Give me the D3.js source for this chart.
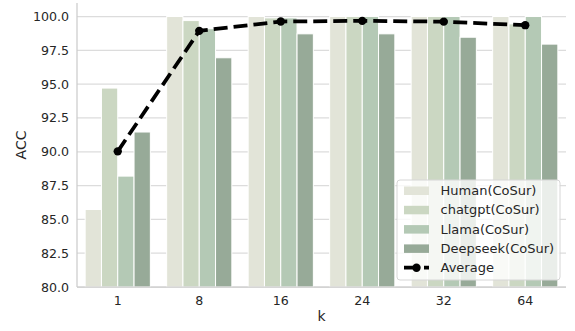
<!DOCTYPE html>
<html><head><meta charset="utf-8">
<script src="https://cdn.jsdelivr.net/npm/d3@7"></script>
<style>body{margin:0;background:#fff}svg{display:block}text{font-family:"DejaVu Sans",sans-serif;fill:#262626}</style>
</head><body>
<svg id="c" width="575" height="331"></svg>
<script>
const categories = ["1","8","16","24","32","64"];
const seriesNames = ["Human(CoSur)","chatgpt(CoSur)","Llama(CoSur)","Deepseek(CoSur)"];
const human    = [85.73, 100.0, 100.0, 100.0, 100.0, 100.0];
const chatgpt  = [94.71, 99.7, 99.9, 100.0, 100.0, 99.46];
const llama    = [88.2, 99.1, 99.9, 100.0, 100.0, 100.0];
const deepseek = [91.46, 96.95, 98.72, 98.72, 98.47, 97.96];
const average  = [90.03, 98.94, 99.63, 99.68, 99.62, 99.36];
const yTicks = [80, 82.5, 85, 87.5, 90, 92.5, 95, 97.5, 100];
const colors = ["#e2e4d8","#cbd7c2","#b4c9b5","#97aa98"];

const series = [human, chatgpt, llama, deepseek];
const svg = d3.select("#c");
const L = 77, R = 566, T = 3, B = 287;
const x = d3.scaleBand().domain(categories).range([L, R]).paddingInner(0).paddingOuter(0);
const y = d3.scaleLinear().domain([80, 101]).range([B, T]);
const groupW = x.bandwidth() * 0.8;
const xs = d3.scaleBand().domain(d3.range(4)).range([0, groupW]);

// grid
svg.append("g").selectAll("line").data(yTicks).join("line")
  .attr("x1", L).attr("x2", R).attr("y1", d => y(d)).attr("y2", d => y(d))
  .attr("stroke", "#dcdcdc").attr("stroke-width", 1.25);

// bars
series.forEach((vals, si) => {
  svg.append("g").selectAll("rect").data(vals).join("rect")
    .attr("x", (d, i) => x(categories[i]) + x.bandwidth() * 0.1 + xs(si))
    .attr("width", xs.bandwidth())
    .attr("y", d => y(d)).attr("height", d => B - y(d))
    .attr("fill", colors[si]).attr("stroke", "#fff").attr("stroke-width", 1);
});

// spines
svg.append("line").attr("x1", L).attr("x2", L).attr("y1", T).attr("y2", B).attr("stroke", "#cccccc").attr("stroke-width", 1.25);
svg.append("line").attr("x1", L).attr("x2", R).attr("y1", B).attr("y2", B).attr("stroke", "#cccccc").attr("stroke-width", 1.25);

// axes
const yAxis = d3.axisLeft(y).tickValues(yTicks).tickSize(0).tickPadding(8).tickFormat(d3.format(".1f"));
const gy = svg.append("g").attr("transform", `translate(${L},0)`).call(yAxis);
gy.select(".domain").remove();
gy.selectAll("text").style("font-size", "12.6px").attr("fill", "#262626");
const xAxis = d3.axisBottom(x).tickSize(0).tickPadding(9);
const gx = svg.append("g").attr("transform", `translate(0,${B})`).call(xAxis);
gx.select(".domain").remove();
gx.selectAll("text").style("font-size", "12.6px").attr("fill", "#262626");

svg.append("text").attr("x", (L + R) / 2).attr("y", 321).attr("text-anchor", "middle").style("font-size", "14px").text("k");
svg.append("text").attr("transform", `translate(26,${(T + B) / 2}) rotate(-90)`).attr("text-anchor", "middle").style("font-size", "14px").text("ACC");

// average line
const line = d3.line().x((d, i) => x(categories[i]) + x.bandwidth() / 2).y(d => y(d));
svg.append("path").datum(average).attr("d", line).attr("fill", "none")
  .attr("stroke", "#000").attr("stroke-width", 3.75).attr("stroke-dasharray", "14,6");
svg.append("g").selectAll("path").data(average).join("path")
  .attr("transform", (d, i) => `translate(${x(categories[i]) + x.bandwidth() / 2},${y(d)})`)
  .attr("d", d3.symbol(d3.symbolCircle, 55)).attr("fill", "#000");

// legend
const lg = svg.append("g");
lg.append("rect").attr("x", 397).attr("y", 180).attr("width", 163).attr("height", 100).attr("rx", 3)
  .attr("fill", "rgba(255,255,255,0.8)").attr("stroke", "#d6d6d6").attr("stroke-width", 1);
const rowY = d3.range(5).map(i => 190.5 + i * 19.3);
seriesNames.forEach((n, i) => {
  lg.append("rect").attr("x", 404).attr("y", rowY[i] - 4).attr("width", 25).attr("height", 8.5).attr("fill", colors[i]);
  lg.append("text").attr("x", 440.5).attr("y", rowY[i]).attr("dy", "0.35em").style("font-size", "13px").text(n);
});
lg.append("line").attr("x1", 404).attr("x2", 429).attr("y1", rowY[4]).attr("y2", rowY[4])
  .attr("stroke", "#000").attr("stroke-width", 3.75).attr("stroke-dasharray", "14,6");
lg.append("path").attr("transform", `translate(416.5,${rowY[4]})`).attr("d", d3.symbol(d3.symbolCircle, 55)).attr("fill", "#000");
lg.append("text").attr("x", 440.5).attr("y", rowY[4]).attr("dy", "0.35em").style("font-size", "13px").text("Average");
</script>
</body></html>
